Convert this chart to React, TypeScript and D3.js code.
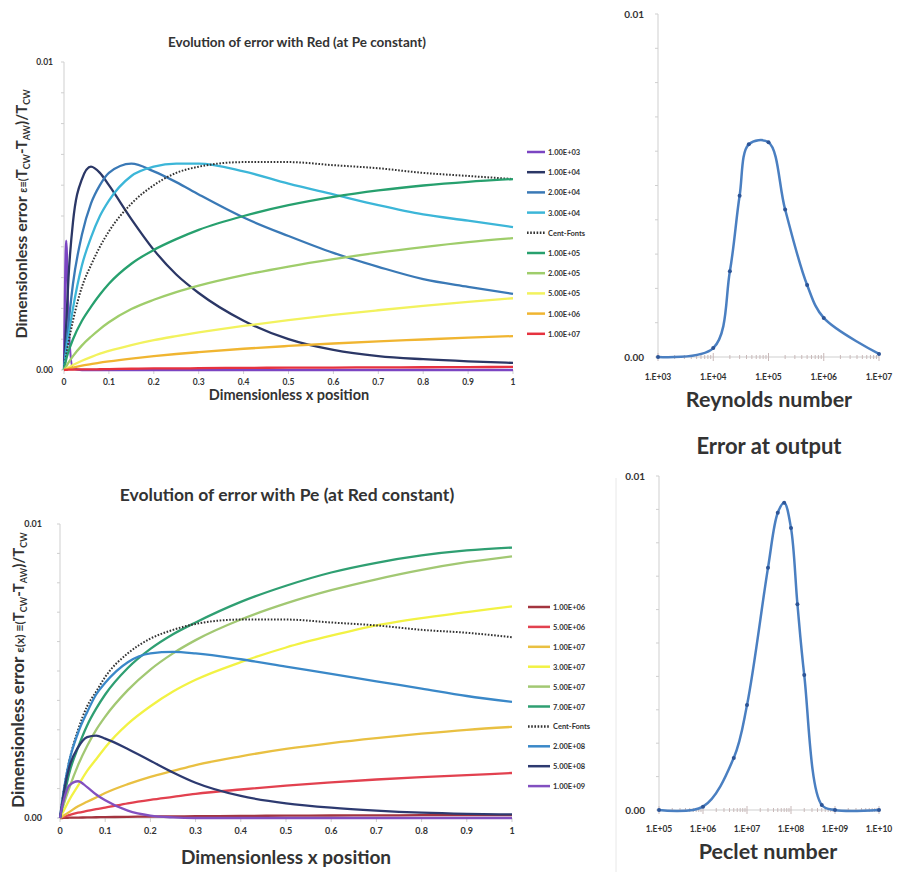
import React from "react";
import * as d3 from "d3";

// shared x grid (dimensionless position) for both left panels
const xGrid = [0, 0.005, 0.01, 0.02, 0.04, 0.06, 0.08, 0.1, 0.15, 0.2, 0.25, 0.3, 0.4, 0.5, 0.6, 0.7, 0.8, 0.9, 1];

// top-left: error (x 1e-3) vs x for each Red
const re1e3 = [0, 4.2, 1.5, 0.05, 0, 0, 0, 0, 0, 0, 0, 0, 0, 0, 0, 0, 0, 0, 0];
const re1e4 = [0, 1.5, 3.0, 4.8, 6.2, 6.6, 6.4, 6.0, 4.9, 3.9, 3.1, 2.5, 1.6, 1.0, 0.65, 0.45, 0.35, 0.28, 0.23];
const re2e4 = [0, 0.8, 1.5, 2.8, 4.4, 5.4, 6.0, 6.4, 6.7, 6.45, 6.1, 5.7, 4.95, 4.35, 3.8, 3.35, 2.95, 2.7, 2.47];
const re3e4 = [0, 0.6, 1.1, 2.0, 3.4, 4.3, 5.0, 5.5, 6.3, 6.6, 6.7, 6.7, 6.45, 6.05, 5.7, 5.35, 5.05, 4.85, 4.64];
const centTop = [0, 0.5, 0.9, 1.6, 2.7, 3.4, 4.0, 4.5, 5.4, 6.0, 6.4, 6.6, 6.75, 6.75, 6.65, 6.55, 6.4, 6.3, 6.2];
const re1e5 = [0, 0.35, 0.6, 1.0, 1.6, 2.05, 2.45, 2.8, 3.45, 3.9, 4.25, 4.55, 5.0, 5.35, 5.62, 5.83, 5.99, 6.11, 6.2];
const re2e5 = [0, 0.12, 0.24, 0.45, 0.8, 1.08, 1.33, 1.55, 1.98, 2.28, 2.53, 2.74, 3.08, 3.36, 3.6, 3.81, 3.99, 4.15, 4.28];
const re5e5 = [0, 0.04, 0.08, 0.16, 0.3, 0.42, 0.53, 0.62, 0.81, 0.97, 1.1, 1.22, 1.43, 1.62, 1.79, 1.94, 2.08, 2.21, 2.33];
const re1e6 = [0, 0.02, 0.04, 0.08, 0.14, 0.19, 0.24, 0.28, 0.37, 0.45, 0.52, 0.58, 0.69, 0.78, 0.86, 0.93, 0.99, 1.05, 1.1];
const re1e7 = [0, 0.005, 0.01, 0.015, 0.02, 0.02, 0.025, 0.03, 0.04, 0.05, 0.05, 0.06, 0.07, 0.075, 0.08, 0.085, 0.09, 0.095, 0.1];

const redLabels = ["1.00E+03", "1.00E+04", "2.00E+04", "3.00E+04", "Cent-Fonts", "1.00E+05", "2.00E+05", "5.00E+05", "1.00E+06", "1.00E+07"];
const redColors = ["#7b45c2", "#2b3766", "#3a79b6", "#3cb6d8", "#333333", "#27a06e", "#9fcd6b", "#f2f25e", "#f0b531", "#e6323f"];
const redSeries = [re1e3, re1e4, re2e4, re3e4, centTop, re1e5, re2e5, re5e5, re1e6, re1e7];

// bottom-left: error (x 1e-3) vs x for each Pe
const pe1e6 = [0, 0, 0.005, 0.01, 0.015, 0.02, 0.025, 0.03, 0.04, 0.05, 0.055, 0.06, 0.07, 0.08, 0.085, 0.09, 0.095, 0.1, 0.1];
const pe5e6 = [0, 0.03, 0.05, 0.1, 0.18, 0.24, 0.3, 0.35, 0.5, 0.62, 0.72, 0.82, 0.97, 1.1, 1.21, 1.31, 1.39, 1.46, 1.53];
const pe1e7 = [0, 0.05, 0.1, 0.2, 0.4, 0.55, 0.7, 0.85, 1.15, 1.4, 1.6, 1.8, 2.1, 2.35, 2.55, 2.72, 2.87, 3.0, 3.1];
const pe3e7 = [0, 0.15, 0.3, 0.6, 1.1, 1.6, 2.0, 2.4, 3.2, 3.8, 4.3, 4.7, 5.3, 5.8, 6.2, 6.55, 6.8, 7.0, 7.2];
const pe5e7 = [0, 0.3, 0.55, 1.0, 1.8, 2.45, 3.0, 3.45, 4.35, 5.05, 5.6, 6.05, 6.75, 7.3, 7.75, 8.12, 8.44, 8.7, 8.9];
const pe7e7 = [0, 0.4, 0.8, 1.5, 2.4, 3.15, 3.72, 4.2, 5.1, 5.75, 6.25, 6.65, 7.35, 7.9, 8.35, 8.68, 8.93, 9.1, 9.2];
const centBottom = [0, 0.6, 1.1, 1.9, 3.0, 3.8, 4.3, 4.8, 5.6, 6.1, 6.4, 6.6, 6.75, 6.75, 6.65, 6.55, 6.4, 6.3, 6.15];
const pe2e8 = [0, 0.6, 1.1, 1.9, 2.9, 3.6, 4.2, 4.6, 5.3, 5.6, 5.65, 5.6, 5.4, 5.15, 4.9, 4.65, 4.4, 4.15, 3.95];
const pe5e8 = [0, 0.5, 1.0, 1.7, 2.4, 2.75, 2.8, 2.7, 2.35, 1.95, 1.55, 1.2, 0.75, 0.5, 0.35, 0.25, 0.18, 0.14, 0.12];
const pe1e9 = [0, 0.4, 0.7, 1.1, 1.25, 1.05, 0.8, 0.6, 0.25, 0.08, 0.02, 0, 0, 0, 0, 0, 0, 0, 0];

const peLabels = ["1.00E+06", "5.00E+06", "1.00E+07", "3.00E+07", "5.00E+07", "7.00E+07", "Cent-Fonts", "2.00E+08", "5.00E+08", "1.00E+09"];
const peColors = ["#a3343f", "#e2414f", "#e9c042", "#f2f244", "#a2c873", "#2f9f72", "#333333", "#3a88c8", "#2d3a70", "#8250c0"];
const peSeries = [pe1e6, pe5e6, pe1e7, pe3e7, pe5e7, pe7e7, centBottom, pe2e8, pe5e8, pe1e9];

// right panels: error at output (x 1e-3)
const reynolds = [1e3, 1e4, 2e4, 3e4, 4.4e4, 1e5, 2e5, 5e5, 1e6, 1e7];
const reError = [0, 0.26, 2.5, 4.7, 6.2, 6.26, 4.3, 2.1, 1.14, 0.09];
const peclet = [1e5, 1e6, 5e6, 1e7, 3e7, 5e7, 7e7, 1e8, 1.4e8, 2e8, 5e8, 1e9, 1e10];
const pecletError = [0, 0.1, 1.56, 3.14, 7.25, 8.9, 9.2, 8.44, 6.16, 4.04, 0.15, 0, 0];

const xTicks = [0, 0.1, 0.2, 0.3, 0.4, 0.5, 0.6, 0.7, 0.8, 0.9, 1];
const yMinor = [0, 1, 2, 3, 4, 5, 6, 7, 8, 9, 10];

const FONT = "Lato, 'Open Sans', sans-serif";
const AXIS = "#cfcfcf";
const TXT = "#333";

function LeftPanel(p: {
  x0: number; x1: number; y0: number; y1: number;
  series: number[][]; colors: string[]; labels: string[];
  legX: number; legY: number; legStep: number; legLen: number;
  tickFs: number; tickY: number; yLabOff: number;
}) {
  const xs = d3.scaleLinear().domain([0, 1]).range([p.x0, p.x1]);
  const ys = d3.scaleLinear().domain([0, 10]).range([p.y0, p.y1]);
  const line = d3
    .line<number>()
    .x((d, i) => xs(xGrid[i]))
    .y(d => ys(d))
    .curve(d3.curveMonotoneX);
  return (
    <g>
      <line x1={p.x0} x2={p.x0} y1={p.y0} y2={p.y1} stroke={AXIS} strokeWidth={1} />
      {yMinor.map(v => (
        <line key={v} x1={p.x0 - 3} x2={p.x0} y1={ys(v)} y2={ys(v)} stroke={AXIS} />
      ))}
      <line x1={p.x0} x2={p.x1} y1={p.y0} y2={p.y0} stroke={AXIS} strokeWidth={1} />
      {xTicks.map(t => (
        <g key={t}>
          <line x1={xs(t)} x2={xs(t)} y1={p.y0} y2={p.y0 + 4} stroke={AXIS} />
          <text x={xs(t)} y={p.tickY} fontSize={p.tickFs} fontWeight="bold" textAnchor="middle" fill={TXT}>
            {t}
          </text>
        </g>
      ))}
      <text x={p.x0 - p.yLabOff} y={ys(10) + 3} fontSize={p.tickFs} fontWeight="bold" textAnchor="end" fill={TXT}>0.01</text>
      <text x={p.x0 - p.yLabOff} y={ys(0) + 3} fontSize={p.tickFs} fontWeight="bold" textAnchor="end" fill={TXT}>0.00</text>
      {p.series.map((s, i) => (
        <path
          key={i}
          d={line(s) || ""}
          fill="none"
          stroke={p.colors[i]}
          strokeWidth={p.labels[i] === "Cent-Fonts" ? 2 : 2.3}
          strokeDasharray={p.labels[i] === "Cent-Fonts" ? "1.6,1.6" : undefined}
        />
      ))}
      {p.labels.map((l, i) => (
        <g key={l}>
          <line
            x1={p.legX}
            x2={p.legX + p.legLen}
            y1={p.legY + i * p.legStep}
            y2={p.legY + i * p.legStep}
            stroke={p.colors[i]}
            strokeWidth={2.5}
            strokeDasharray={l === "Cent-Fonts" ? "1.6,1.6" : undefined}
          />
          <text x={p.legX + p.legLen + 3} y={p.legY + i * p.legStep + 3} fontSize={7.5} fontWeight="bold" fill={TXT}>
            {l}
          </text>
        </g>
      ))}
    </g>
  );
}

function LogPanel(p: {
  domain: [number, number]; x0: number; x1: number; y0: number; y1: number;
  xv: number[]; yv: number[]; tickY: number;
}) {
  const xs = d3.scaleLog().domain(p.domain).range([p.x0, p.x1]);
  const ys = d3.scaleLinear().domain([0, 10]).range([p.y0, p.y1]);
  const line = d3
    .line<number>()
    .x((d, i) => xs(p.xv[i]))
    .y(d => ys(d))
    .curve(d3.curveCatmullRom.alpha(0.5));
  const decades = d3.range(Math.log10(p.domain[0]), Math.log10(p.domain[1]) + 1).map(e => Math.pow(10, e));
  const minors: number[] = [];
  decades.slice(0, -1).forEach(d => {
    for (let k = 2; k < 10; k++) minors.push(d * k);
  });
  return (
    <g>
      <line x1={p.x0} x2={p.x0} y1={p.y0} y2={p.y1} stroke={AXIS} />
      {yMinor.map(v => (
        <line key={v} x1={p.x0 - 3} x2={p.x0} y1={ys(v)} y2={ys(v)} stroke={AXIS} />
      ))}
      <line x1={p.x0} x2={p.x1} y1={p.y0} y2={p.y0} stroke={AXIS} />
      {minors.map(m => (
        <line key={m} x1={xs(m)} x2={xs(m)} y1={p.y0 - 2} y2={p.y0 + 2} stroke="#c9b9b9" />
      ))}
      {decades.map(d => (
        <g key={d}>
          <line x1={xs(d)} x2={xs(d)} y1={p.y0 - 4} y2={p.y0 + 4} stroke="#c9b9b9" />
          <text x={xs(d)} y={p.tickY} fontSize={8.5} fontWeight="bold" textAnchor="middle" fill={TXT}>
            {"1.E+" + String(Math.round(Math.log10(d))).padStart(2, "0")}
          </text>
        </g>
      ))}
      <text x={p.x0 - 14} y={ys(10) + 3.5} fontSize={10} fontWeight="bold" textAnchor="end" fill={TXT}>0.01</text>
      <text x={p.x0 - 14} y={ys(0) + 3.5} fontSize={10} fontWeight="bold" textAnchor="end" fill={TXT}>0.00</text>
      <path d={line(p.yv) || ""} fill="none" stroke="#4a7fc1" strokeWidth={2.5} />
      {p.yv.map((v, i) => (
        <circle key={i} cx={xs(p.xv[i])} cy={ys(v)} r={2} fill="#2d5597" />
      ))}
    </g>
  );
}

export default function App() {
  return (
    <svg
      width={897}
      height={876}
      style={{ position: "absolute", left: 0, top: 0, background: "#fff" }}
      fontFamily={FONT}
    >
      <rect width={897} height={876} fill="#fff" />

      {/* top-left */}
      <text x={297} y={47} fontSize={13.5} fontWeight="bold" textAnchor="middle" fill={TXT}>
        Evolution of error with Red (at Pe constant)
      </text>
      <LeftPanel
        x0={64} x1={513} y0={370} y1={62}
        series={redSeries} colors={redColors} labels={redLabels}
        legX={527} legY={152} legStep={20.2} legLen={18}
        tickFs={8.5} tickY={385} yLabOff={11}
      />
      <text x={289} y={400} fontSize={14.5} fontWeight="bold" textAnchor="middle" fill={TXT}>
        Dimensionless  x position
      </text>
      <text transform="translate(27,214) rotate(-90)" textAnchor="middle" fill={TXT} fontWeight="bold">
        <tspan fontSize={16}>Dimensionless error </tspan>
        <tspan fontSize={11}> ε≡(</tspan>
        <tspan fontSize={15}>T</tspan>
        <tspan fontSize={9} dy={2.5}>CW</tspan>
        <tspan fontSize={15} dy={-2.5}>-T</tspan>
        <tspan fontSize={9} dy={2.5}>AW</tspan>
        <tspan fontSize={15} dy={-2.5}>)/T</tspan>
        <tspan fontSize={9} dy={2.5}>CW</tspan>
      </text>

      {/* bottom-left */}
      <text x={287} y={501} fontSize={17.5} fontWeight="bold" textAnchor="middle" fill={TXT}>
        Evolution of error with Pe (at Red constant)
      </text>
      <LeftPanel
        x0={60} x1={512} y0={818} y1={524}
        series={peSeries} colors={peColors} labels={peLabels}
        legX={528} legY={607} legStep={19.9} legLen={22}
        tickFs={9} tickY={834} yLabOff={18}
      />
      <text x={286} y={864} fontSize={19} fontWeight="bold" textAnchor="middle" fill={TXT}>
        Dimensionless  x position
      </text>
      <text transform="translate(24,670) rotate(-90)" textAnchor="middle" fill={TXT} fontWeight="bold">
        <tspan fontSize={17}>Dimensionless error </tspan>
        <tspan fontSize={12}> ε(x) ≡(</tspan>
        <tspan fontSize={15}>T</tspan>
        <tspan fontSize={9} dy={2.5}>CW</tspan>
        <tspan fontSize={15} dy={-2.5}>-T</tspan>
        <tspan fontSize={9} dy={2.5}>AW</tspan>
        <tspan fontSize={15} dy={-2.5}>)/T</tspan>
        <tspan fontSize={9} dy={2.5}>CW</tspan>
      </text>

      {/* top-right */}
      <LogPanel domain={[1e3, 1e7]} x0={658} x1={879} y0={357} y1={14} xv={reynolds} yv={reError} tickY={380} />
      <text x={769} y={407} fontSize={21.5} fontWeight="bold" textAnchor="middle" fill={TXT}>
        Reynolds number
      </text>
      <text x={769} y={454} fontSize={22} fontWeight="bold" textAnchor="middle" fill={TXT}>
        Error at output
      </text>

      {/* bottom-right */}
      <line x1={616} x2={616} y1={478} y2={872} stroke="#e8e8e8" />
      <LogPanel domain={[1e5, 1e10]} x0={659} x1={879} y0={810} y1={476} xv={peclet} yv={pecletError} tickY={832} />
      <text x={768} y={859} fontSize={21.5} fontWeight="bold" textAnchor="middle" fill={TXT}>
        Peclet number
      </text>
    </svg>
  );
}
